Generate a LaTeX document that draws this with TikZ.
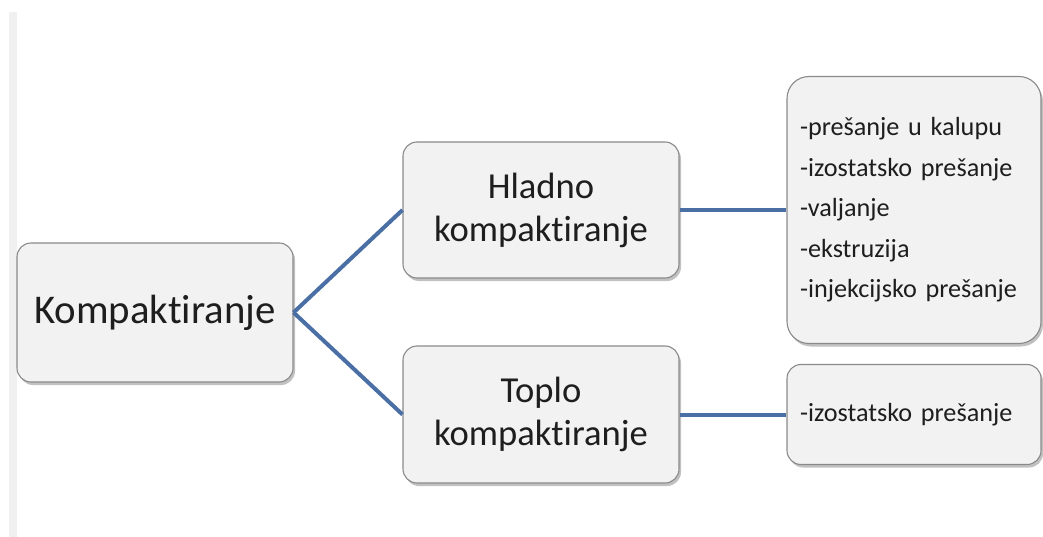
\documentclass[tikz,border=0pt]{standalone}
\usepackage{fontspec}
\setmainfont{Carlito}[Ligatures={NoCommon,NoContextual}]
\usetikzlibrary{shadows}
\newcommand\tsep{t\kern0pt i}
\definecolor{boxfill}{HTML}{F2F2F2}
\definecolor{boxdraw}{HTML}{8A8A8A}
\definecolor{linkblue}{HTML}{4A6FA5}
\definecolor{txt}{HTML}{1E1E1E}
\definecolor{strip}{HTML}{F0F0F0}
\begin{document}
\begin{tikzpicture}[x=1pt,y=-1pt,
  box/.style={draw=boxdraw, line width=1.1pt, fill=boxfill, rounded corners=14pt,
    text=txt, inner sep=0pt,
    drop shadow={shadow xshift=2pt, shadow yshift=-3pt, opacity=0.35, fill=black!70}},
  bigfont/.style={font=\fontsize{40.8}{49}\selectfont},
  midfont/.style={font=\fontsize{36.6}{43}\selectfont, align=center},
  listbox/.style={box, rounded corners=22pt, inner xsep=13pt, text width=228pt, align=left,
    font=\fontsize{26.2}{40.5}\selectfont},
  link/.style={draw=linkblue, line width=4pt}]
\useasboundingbox (0,0) rectangle (1043,537);
\fill[strip] (9,12) rectangle (17,537);
\node[box, bigfont, minimum width=276pt, minimum height=139pt] (k) at (155,312.5) {Kompak\tsep ranje};
\node[box, midfont, minimum width=276pt, minimum height=136pt] (h) at (541,210) {Hladno\\kompak\tsep ranje};
\node[box, midfont, minimum width=276pt, minimum height=137pt] (t) at (541,414.5) {Toplo\\kompak\tsep ranje};
\node[listbox, minimum height=267pt] (r1) at (914,210) {-prešanje u kalupu\\-izostatsko prešanje\\-valjanje\\-ekstruzija\\-injekcijsko prešanje};
\node[listbox, rounded corners=14pt, minimum height=100pt] (r2) at (914,414.5) {-izostatsko prešanje};
\draw[link] (k.east) -- (h.west);
\draw[link] (k.east) -- (t.west);
\draw[link] (h.east) -- (r1.west);
\draw[link] (t.east) -- (r2.west);
\end{tikzpicture}
\end{document}
